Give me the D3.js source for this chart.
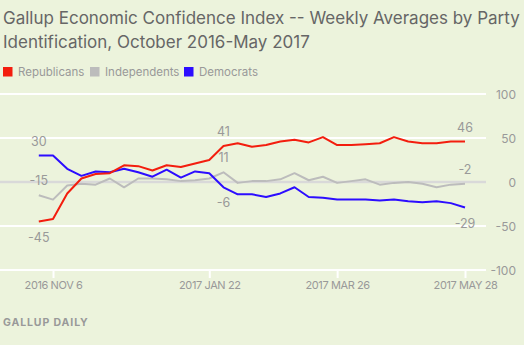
<!DOCTYPE html>
<html>
<head>
<meta charset="utf-8">
<script src="https://cdn.jsdelivr.net/npm/d3@7"></script>
<style>
  html, body { margin: 0; padding: 0; background: #ecf3dc; }
  svg { display: block; }
  text { font-family: Inter, "Open Sans", sans-serif; }
</style>
</head>
<body>
<svg id="chart" width="524" height="345"></svg>
<script>
// ---- data ----
const weeks = ["2016-10-30","2016-11-06","2016-11-13","2016-11-20","2016-11-27","2016-12-04","2016-12-11","2016-12-18","2016-12-25",
  "2017-01-01","2017-01-08","2017-01-15","2017-01-22","2017-01-29","2017-02-05","2017-02-12","2017-02-19","2017-02-26",
  "2017-03-05","2017-03-12","2017-03-19","2017-03-26","2017-04-02","2017-04-09","2017-04-16","2017-04-23","2017-04-30",
  "2017-05-07","2017-05-14","2017-05-21","2017-05-28"];
const republicans = [-45,-42,-13,4,9,10,19,18,13,19,17,21,25,41,44,40,42,46,48,45,51,42,42,43,44,51,46,44,44,46,46];
const independents = [-15,-20,-4,-2,-3,4,-6,4,4,3,1,2,4,11,-1,1,1,3,10,2,6,-1,1,3,-3,-1,0,-2,-6,-3,-2];
const democrats = [30,30,15,7,12,11,15,11,6,14,5,12,10,-6,-14,-14,-17,-13,-6,-17,-18,-20,-20,-20,-21,-20,-22,-23,-22,-24,-29];
const seriesNames = ["Republicans","Independents","Democrats"];
const seriesColors = ["#f31d0e","#bcbcbc","#2c0dff"];
const yTicks = [100,50,0,-50,-100];
const xTickDates = ["2016-11-06","2017-01-22","2017-03-26","2017-05-28"];
const xTickLabels = ["2016 NOV 6","2017 JAN 22","2017 MAR 26","2017 MAY 28"];
const labelIdx = [0, 13, 30];
const titleLines = ["Gallup Economic Confidence Index -- Weekly Averages by Party","Identification, October 2016-May 2017"];
const sourceText = "GALLUP DAILY";

// ---- layout ----
const svg = d3.select("#chart");
const parse = d3.timeParse("%Y-%m-%d");
const dates = weeks.map(parse);
const x = d3.scaleTime().domain([dates[0], dates[dates.length-1]]).range([38.8, 465]);
const y = d3.scaleLinear().domain([-100, 100]).range([270, 94]);
const gridRight = 486;

// title
svg.append("g").selectAll("text").data(titleLines).join("text")
  .attr("x", 3).attr("y", (d,i) => 24 + i*24)
  .attr("fill", "#666").attr("font-size", 17)
  .text(d => d);

// legend
const legX = [3, 90, 184];
const leg = svg.append("g").selectAll("g").data(seriesNames).join("g")
  .attr("transform", (d,i) => `translate(${legX[i]},67)`);
leg.append("rect").attr("width", 9.5).attr("height", 9.5).attr("fill", (d,i) => seriesColors[i]);
leg.append("text").attr("x", 15).attr("y", 8.7).attr("fill", "#999").attr("font-size", 11.5).text(d => d);

// grid
const grid = svg.append("g");
grid.selectAll("line").data(yTicks).join("line")
  .attr("x1", 0).attr("x2", gridRight)
  .attr("y1", d => y(d)).attr("y2", d => y(d))
  .attr("stroke", d => d === 0 ? "#d9d9d9" : "#ffffff")
  .attr("stroke-width", d => d === 0 ? 2.5 : 2);

// y labels
svg.append("g").selectAll("text").data(yTicks).join("text")
  .attr("x", 516).attr("y", d => y(d) + 4.5)
  .attr("text-anchor", "end").attr("fill", "#999").attr("font-size", 12)
  .text(d => d);

// x axis ticks
const xAxis = d3.axisBottom(x).tickValues(xTickDates.map(parse)).tickSize(8)
  .tickFormat((d,i) => xTickLabels[i]);
const gx = svg.append("g").attr("transform", `translate(0,${y(-100)})`).call(xAxis);
gx.select(".domain").remove();
gx.selectAll(".tick line").attr("stroke", "#fff").attr("stroke-width", 2);
gx.selectAll(".tick text").attr("fill", "#999").attr("font-size", 11)
  .attr("font-family", "Inter, sans-serif").attr("letter-spacing", "-0.4px")
  .attr("y", 19).attr("dy", 0);

// lines
const allSeries = [republicans, independents, democrats];
const line = d3.line().x((d,i) => x(dates[i])).y(d => y(d));
[1,2,0].forEach(s => {
  svg.append("path").datum(allSeries[s])
    .attr("d", line).attr("fill", "none")
    .attr("stroke", seriesColors[s]).attr("stroke-width", 2)
    .attr("stroke-linejoin", "round");
});

// value labels
const lab = svg.append("g");
labelIdx.forEach(i => {
  const vals = allSeries.map(a => a[i]);
  const minV = d3.min(vals);
  allSeries.forEach((a, s) => {
    const below = a[i] === minV;
    lab.append("text")
      .attr("x", x(dates[i])).attr("y", y(a[i]) + (below ? 20 : -10))
      .attr("text-anchor", "middle").attr("fill", "#999").attr("font-size", 12.5)
      .text(a[i]);
  });
});

// source
svg.append("text").attr("x", 3).attr("y", 326)
  .attr("fill", "#999").attr("font-size", 10.5).attr("font-weight", "bold")
  .attr("letter-spacing", "0.9px").text(sourceText);
</script>
</body>
</html>
